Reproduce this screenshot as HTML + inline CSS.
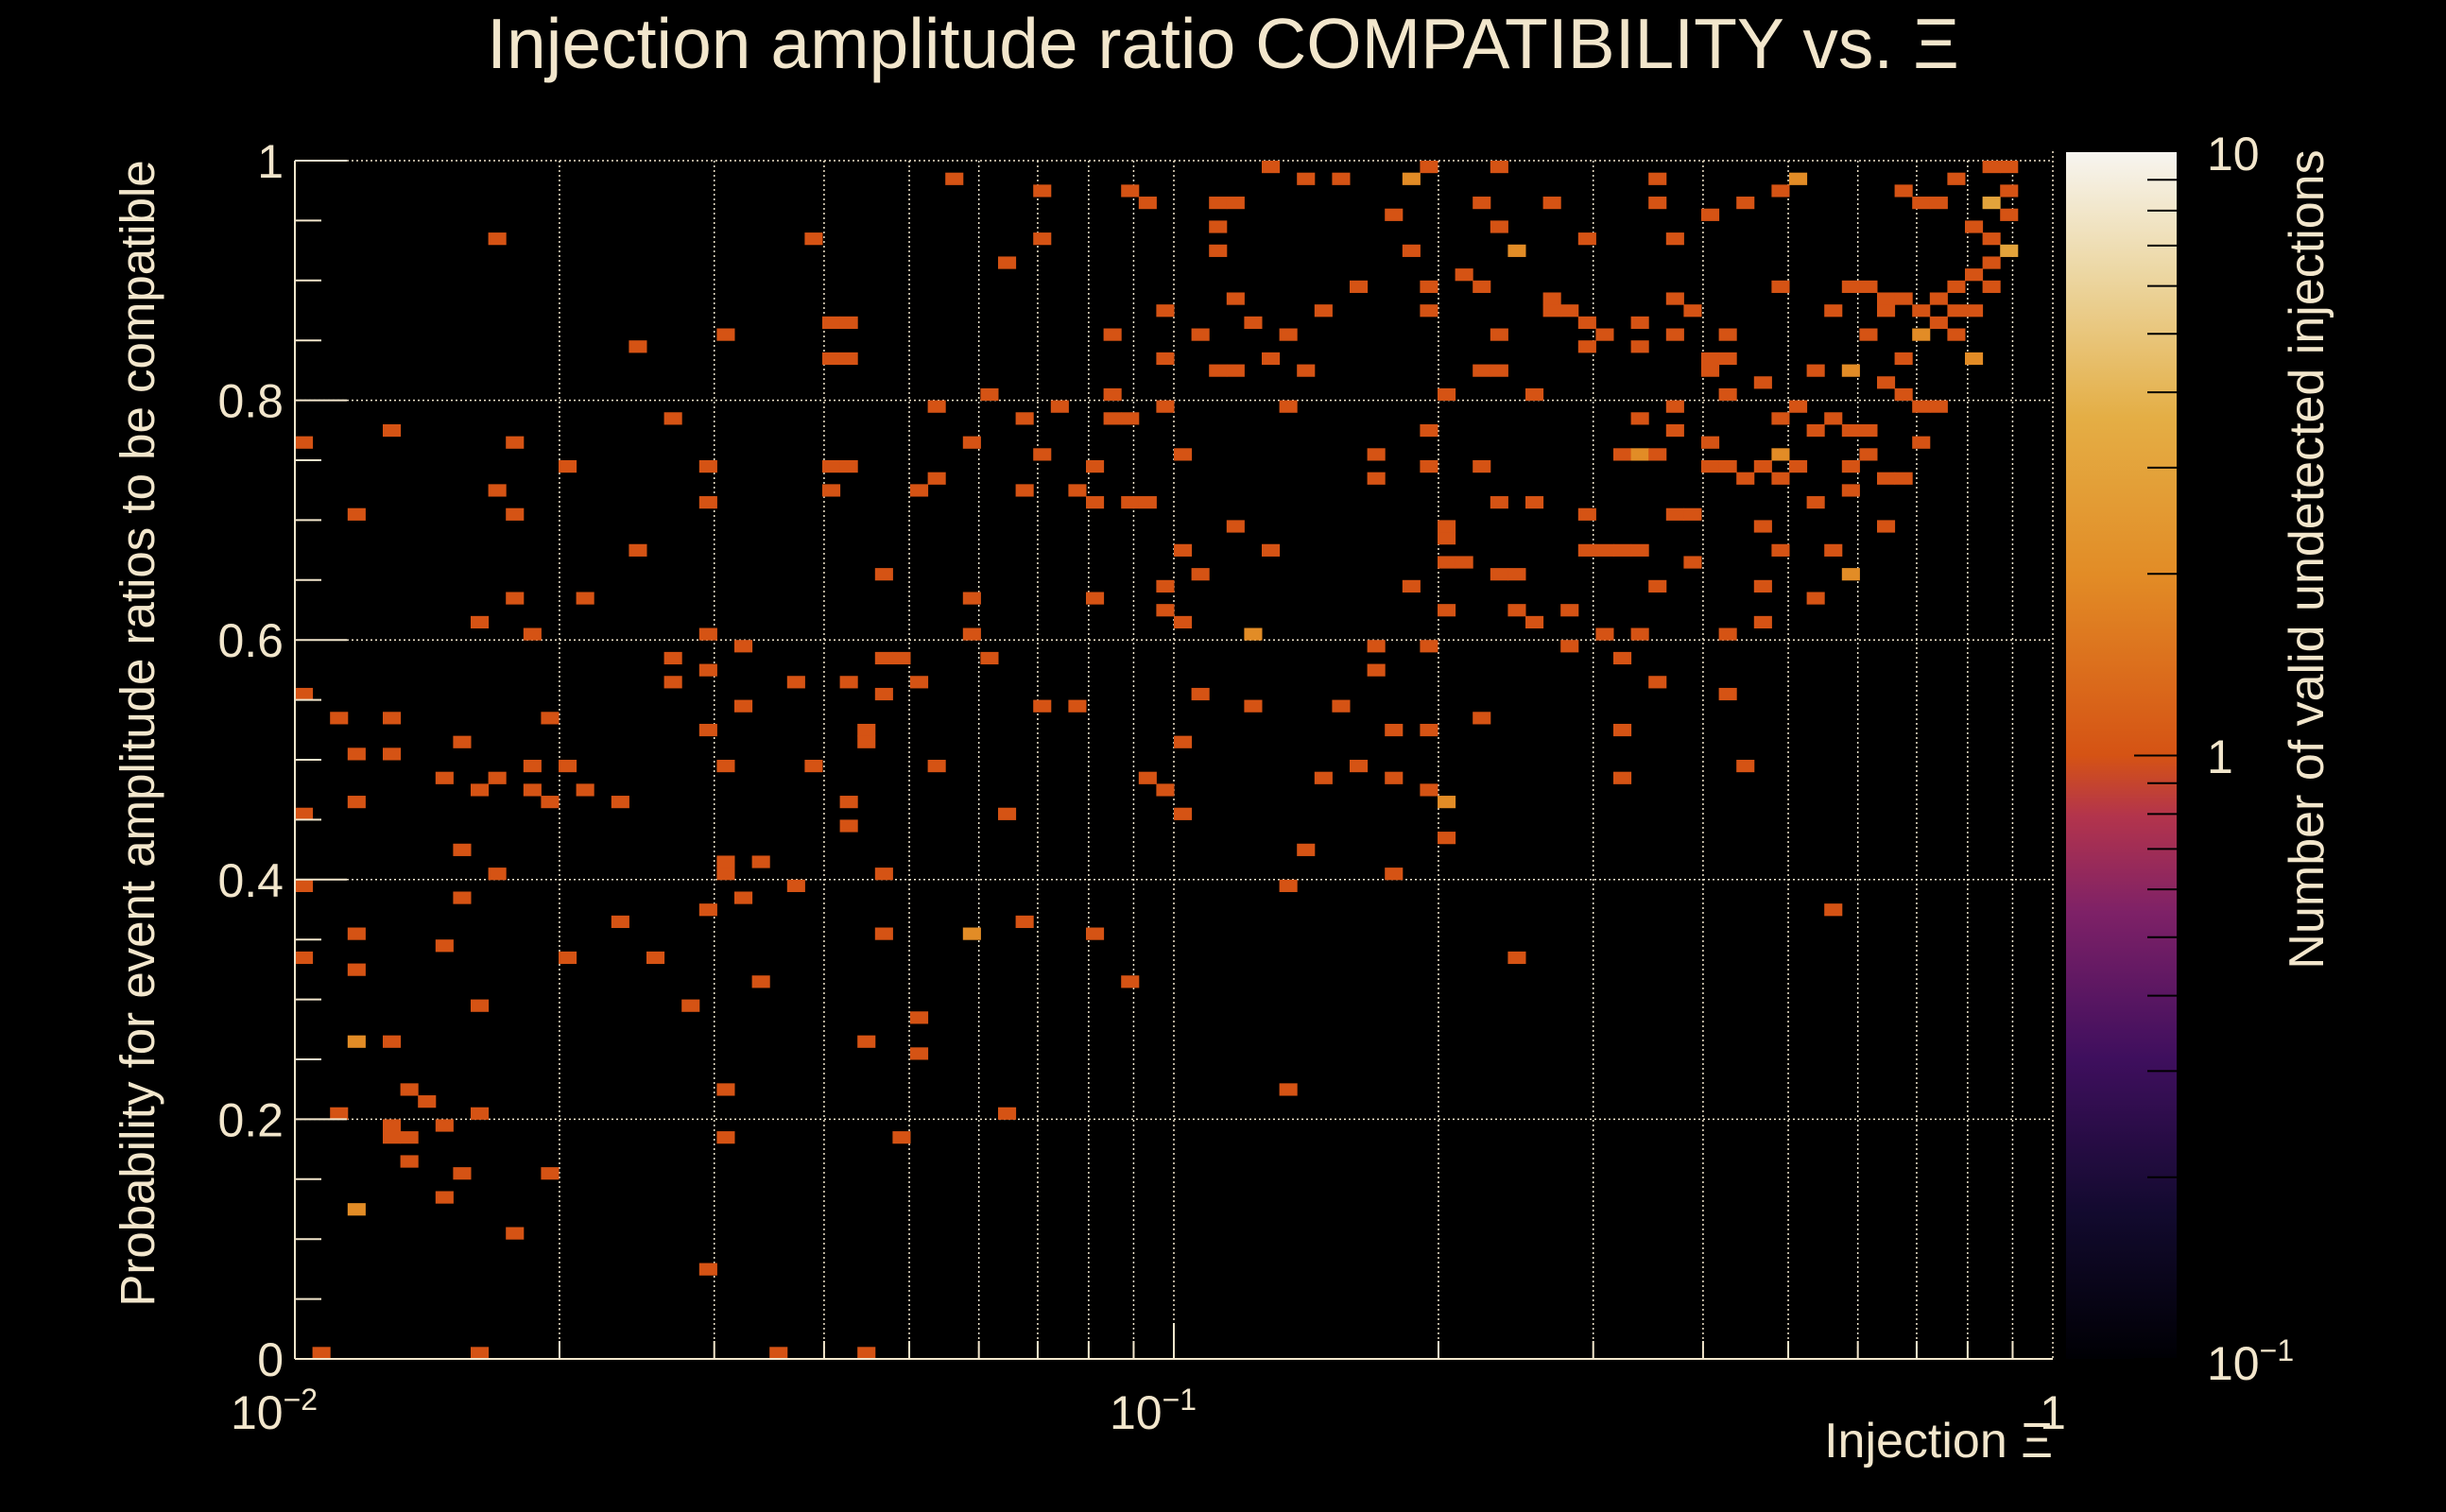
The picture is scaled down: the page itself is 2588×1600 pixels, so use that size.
<!DOCTYPE html>
<html><head><meta charset="utf-8"><style>
html,body{margin:0;padding:0;background:#000;}
svg{display:block;font-family:"Liberation Sans",sans-serif;}
</style></head><body>
<svg id="chart" width="2588" height="1600" viewBox="0 0 2588 1600">
<defs>
<linearGradient id="cbgrad" x1="0" y1="1" x2="0" y2="0">
<stop offset="0" stop-color="#000004"/><stop offset="0.12" stop-color="#120a2e"/><stop offset="0.25" stop-color="#3f0f5e"/><stop offset="0.37" stop-color="#7e2167"/><stop offset="0.45" stop-color="#b3344c"/><stop offset="0.5" stop-color="#d55314"/><stop offset="0.65" stop-color="#e28c26"/><stop offset="0.78" stop-color="#e4ae45"/><stop offset="0.9" stop-color="#ecd7a3"/><stop offset="1" stop-color="#f7f5f0"/>
</linearGradient>
</defs>
<g id="grid"></g>
<g id="cells"></g>
<g id="axes"></g>
<text x="1294" y="72" font-size="75" fill="#f2e6cc" text-anchor="middle">Injection amplitude ratio COMPATIBILITY vs.  Ξ</text>
<text transform="translate(163,776) rotate(-90)" font-size="51" fill="#f2e6cc" text-anchor="middle">Probability for event amplitude ratios to be compatible</text>
<text x="2172" y="1542" font-size="52" fill="#f2e6cc" text-anchor="end">Injection Ξ</text>
<rect x="2186" y="161" width="117" height="1277" fill="url(#cbgrad)"/>
<g id="cbticks"></g>
<text x="2335" y="180" font-size="50" fill="#f2e6cc">10</text>
<text x="2335" y="818" font-size="50" fill="#f2e6cc">1</text>
<text x="2335" y="1460" font-size="50" fill="#f2e6cc">10<tspan font-size="32" dy="-20">−1</tspan></text>
<text transform="translate(2458,592) rotate(-90)" font-size="52" fill="#f2e6cc" text-anchor="middle">Number of valid undetected injections</text>
</svg>
<script>
const xs=[0.01,0.01,0.01,0.0103,0.01,0.011,0.011,0.0117,0.0117,0.012,0.012,0.012,0.0128,0.0128,0.0128,0.012,0.0128,0.0128,0.0128,0.0134,0.0134,0.0134,0.012,0.014,0.0147,0.0147,0.0147,0.0147,0.0154,0.0154,0.0154,0.0154,0.016,0.016,0.016,0.016,0.016,0.0106,0.0168,0.0168,0.0168,0.0168,0.0177,0.0177,0.0177,0.0177,0.0185,0.0185,0.0185,0.0194,0.0194,0.0194,0.0204,0.0204,0.0204,0.0213,0.0213,0.0233,0.0233,0.0243,0.0243,0.0254,0.0267,0.0267,0.0267,0.028,0.029,0.029,0.029,0.029,0.029,0.029,0.029,0.0306,0.0306,0.0306,0.0306,0.0306,0.0306,0.032,0.032,0.032,0.0336,0.0336,0.035,0.0368,0.0368,0.0385,0.0385,0.0404,0.0404,0.0404,0.0404,0.0423,0.0423,0.0423,0.0423,0.0423,0.0423,0.0443,0.0443,0.0443,0.0443,0.0464,0.0464,0.0464,0.0464,0.0464,0.0486,0.0486,0.051,0.051,0.051,0.051,0.0534,0.0534,0.0534,0.056,0.0587,0.0587,0.0587,0.0587,0.061,0.061,0.064,0.064,0.064,0.067,0.067,0.067,0.07,0.07,0.07,0.07,0.073,0.077,0.077,0.08,0.08,0.08,0.08,0.084,0.084,0.084,0.088,0.088,0.088,0.088,0.092,0.092,0.092,0.097,0.097,0.097,0.097,0.097,0.097,0.101,0.101,0.101,0.101,0.101,0.106,0.106,0.106,0.111,0.111,0.111,0.111,0.116,0.116,0.116,0.116,0.122,0.122,0.122,0.128,0.128,0.128,0.134,0.134,0.134,0.134,0.14,0.14,0.14,0.147,0.147,0.154,0.154,0.162,0.162,0.169,0.169,0.169,0.169,0.178,0.178,0.178,0.178,0.186,0.186,0.186,0.195,0.195,0.195,0.195,0.195,0.195,0.195,0.195,0.204,0.204,0.204,0.204,0.204,0.204,0.204,0.213,0.213,0.224,0.224,0.224,0.224,0.224,0.234,0.234,0.234,0.234,0.234,0.237,0.245,0.245,0.245,0.245,0.256,0.256,0.26,0.268,0.27,0.275,0.28,0.287,0.287,0.3,0.3,0.3,0.3,0.3,0.314,0.314,0.314,0.328,0.328,0.328,0.328,0.328,0.343,0.343,0.343,0.343,0.343,0.343,0.358,0.358,0.358,0.358,0.358,0.375,0.375,0.375,0.375,0.375,0.375,0.393,0.393,0.393,0.41,0.41,0.41,0.41,0.41,0.43,0.43,0.43,0.43,0.43,0.43,0.45,0.45,0.45,0.47,0.47,0.47,0.47,0.47,0.49,0.49,0.49,0.49,0.49,0.49,0.51,0.51,0.51,0.535,0.535,0.535,0.535,0.56,0.56,0.56,0.56,0.585,0.585,0.585,0.585,0.585,0.585,0.61,0.61,0.61,0.61,0.64,0.64,0.64,0.64,0.64,0.67,0.67,0.67,0.67,0.67,0.7,0.7,0.7,0.7,0.7,0.73,0.73,0.73,0.73,0.77,0.77,0.77,0.77,0.8,0.8,0.8,0.8,0.84,0.84,0.84,0.84,0.84,0.88,0.88,0.88,0.9];
const ys=[0.55,0.45,0.39,0.76,0.33,0.20,0.53,0.35,0.32,0.70,0.46,0.50,0.77,0.53,0.50,0.26,0.26,0.19,0.18,0.18,0.22,0.16,0.12,0.21,0.19,0.13,0.34,0.48,0.15,0.38,0.42,0.51,0.20,0.29,0.47,0.61,0.0,0.0,0.93,0.72,0.40,0.48,0.76,0.70,0.63,0.10,0.60,0.49,0.47,0.46,0.53,0.15,0.74,0.49,0.33,0.63,0.47,0.46,0.36,0.84,0.67,0.33,0.56,0.58,0.78,0.29,0.74,0.71,0.60,0.57,0.52,0.37,0.07,0.85,0.49,0.22,0.18,0.41,0.40,0.38,0.54,0.59,0.31,0.41,0.0,0.56,0.39,0.93,0.49,0.72,0.86,0.83,0.74,0.86,0.83,0.74,0.56,0.46,0.44,0.52,0.51,0.26,0.0,0.58,0.55,0.65,0.40,0.35,0.58,0.18,0.56,0.28,0.25,0.72,0.49,0.73,0.79,0.98,0.35,0.63,0.60,0.76,0.58,0.80,0.91,0.45,0.20,0.36,0.72,0.78,0.97,0.93,0.75,0.54,0.79,0.54,0.72,0.63,0.74,0.71,0.35,0.80,0.78,0.85,0.78,0.97,0.71,0.31,0.71,0.96,0.48,0.79,0.64,0.62,0.47,0.83,0.87,0.75,0.67,0.61,0.51,0.45,0.85,0.65,0.55,0.96,0.82,0.94,0.92,0.96,0.82,0.88,0.69,0.54,0.86,0.60,0.99,0.67,0.83,0.79,0.39,0.22,0.85,0.82,0.98,0.42,0.87,0.48,0.98,0.54,0.89,0.49,0.75,0.73,0.59,0.57,0.52,0.40,0.95,0.48,0.98,0.92,0.64,0.99,0.89,0.87,0.77,0.74,0.59,0.52,0.47,0.68,0.66,0.69,0.80,0.62,0.46,0.43,0.90,0.66,0.96,0.89,0.82,0.74,0.53,0.82,0.85,0.94,0.71,0.65,0.99,0.65,0.62,0.92,0.33,0.71,0.80,0.61,0.88,0.96,0.87,0.87,0.62,0.59,0.93,0.86,0.84,0.70,0.67,0.85,0.67,0.60,0.67,0.52,0.48,0.75,0.58,0.84,0.86,0.60,0.67,0.78,0.75,0.56,0.64,0.98,0.96,0.75,0.88,0.93,0.79,0.77,0.85,0.70,0.87,0.70,0.66,0.83,0.82,0.95,0.76,0.74,0.60,0.55,0.85,0.83,0.80,0.74,0.73,0.96,0.49,0.81,0.61,0.64,0.74,0.69,0.75,0.78,0.97,0.89,0.73,0.67,0.79,0.74,0.98,0.77,0.82,0.71,0.63,0.78,0.37,0.67,0.87,0.77,0.89,0.82,0.74,0.72,0.65,0.85,0.89,0.75,0.77,0.88,0.81,0.73,0.69,0.87,0.97,0.88,0.83,0.73,0.80,0.96,0.85,0.79,0.76,0.87,0.96,0.88,0.86,0.79,0.89,0.85,0.87,0.98,0.94,0.90,0.87,0.83,0.99,0.96,0.93,0.91,0.89,0.95,0.92,0.97,0.99];
const counts=[1,1,1,1,1,1,1,1,1,1,1,1,1,1,1,2,1,1,1,1,1,1,2,1,1,1,1,1,1,1,1,1,1,1,1,1,1,1,1,1,1,1,1,1,1,1,1,1,1,1,1,1,1,1,1,1,1,1,1,1,1,1,1,1,1,1,1,1,1,1,1,1,1,1,1,1,1,1,1,1,1,1,1,1,1,1,1,1,1,1,1,1,1,1,1,1,1,1,1,1,1,1,1,1,1,1,1,1,1,1,1,1,1,1,1,1,1,1,2,1,1,1,1,1,1,1,1,1,1,1,1,1,1,1,1,1,1,1,1,1,1,1,1,1,1,1,1,1,1,1,1,1,1,1,1,1,1,1,1,1,1,1,1,1,1,1,1,1,1,1,1,1,1,1,1,2,1,1,1,1,1,1,1,1,1,1,1,1,1,1,1,1,1,1,1,1,1,1,1,1,2,1,1,1,1,1,1,1,1,1,1,1,1,1,1,1,2,1,1,1,1,1,1,1,1,1,1,1,1,1,1,1,1,2,1,1,1,1,1,1,1,1,1,1,1,1,1,1,1,1,1,1,1,1,1,1,1,1,1,1,1,1,2,1,1,1,1,1,1,1,1,1,1,1,1,1,1,1,1,1,1,1,1,1,1,1,1,1,1,1,1,1,1,1,1,1,2,1,1,1,1,1,1,1,2,1,1,1,1,1,1,1,1,1,1,2,1,1,2,1,1,1,1,1,1,1,1,1,1,1,1,1,1,1,2,1,1,1,1,1,1,1,1,1,1,1,1,1,1,2,1,3,1,1,1,1,3,1,1,1,1,3,1,2,4,2,1,1];
const xTickLabels=["10","10","1"];
const xTickExps=["−2","−1",""];
const yTickLabels=["0","0.2","0.4","0.6","0.8","1"];

const NS="http://www.w3.org/2000/svg";
const X0=312,X1=2172,Y0=1438,Y1=170,NX=100,NY=100,LMIN=-2,LMAX=0;
const FG="#f2e6cc";
function sx(v){return X0+(Math.log10(v)-LMIN)/(LMAX-LMIN)*(X1-X0);}
function sy(v){return Y0-v*(Y0-Y1);}
function mk(tag,attrs,parent){const e=document.createElementNS(NS,tag);for(const k in attrs)e.setAttribute(k,attrs[k]);parent.appendChild(e);return e;}
const stops=[[0,[0,0,4]],[0.12,[18,10,46]],[0.25,[63,15,94]],[0.37,[126,33,103]],[0.45,[179,52,76]],[0.5,[213,83,20]],[0.65,[226,140,38]],[0.78,[228,174,69]],[0.9,[236,215,163]],[1,[247,245,240]]];
function color(c){let t=(Math.log10(c)+1)/2;t=Math.max(0,Math.min(1,t));for(let i=1;i<stops.length;i++){if(t<=stops[i][0]+1e-9){const a=stops[i-1],b=stops[i];const f=(t-a[0])/(b[0]-a[0]);const r=a[1].map((v,j)=>Math.round(v+(b[1][j]-v)*f));return `rgb(${r[0]},${r[1]},${r[2]})`;}}return "rgb(247,245,240)";}

const grid=document.getElementById('grid');
const axes=document.getElementById('axes');
const cells=document.getElementById('cells');
const cw=(X1-X0)/NX,ch=(Y0-Y1)/NY;
for(let i=0;i<xs.length;i++){
  const bx=Math.min(NX-1,Math.floor((Math.log10(xs[i])-LMIN)/(LMAX-LMIN)*NX));
  const by=Math.min(NY-1,Math.floor(ys[i]*NY+1e-6));
  const r=mk('rect',{x:X0+bx*cw,y:Y0-(by+1)*ch,width:cw+0.5,height:ch+0.5,fill:color(counts[i])},cells);
  
  
}
for(let d=-2;d<0;d++){for(let m=1;m<10;m++){const v=m*Math.pow(10,d);const x=sx(v);
  if(m>1||d>-2)mk('line',{x1:x,y1:Y1,x2:x,y2:Y0,stroke:FG,'stroke-width':1.5,'stroke-dasharray':'2,3'},grid);
  mk('line',{x1:x,y1:Y0,x2:x,y2:Y0-(m==1?38:19),stroke:FG,'stroke-width':2},axes);}}
mk('line',{x1:X1,y1:Y1-10,x2:X1,y2:Y0,stroke:FG,'stroke-width':1.5,'stroke-dasharray':'2,3'},grid);
for(let k=0;k<=20;k++){const v=k/20;const y=sy(v);
  if(k%4==0&&k>0)mk('line',{x1:X0,y1:y,x2:X1,y2:y,stroke:FG,'stroke-width':1.5,'stroke-dasharray':'2,3'},grid);
  mk('line',{x1:X0,y1:y,x2:X0+(k%4==0?55:28),y2:y,stroke:FG,'stroke-width':2},axes);}
mk('line',{x1:X0,y1:Y1,x2:X0,y2:Y0,stroke:FG,'stroke-width':2},axes);
mk('line',{x1:X0,y1:Y0,x2:X1,y2:Y0,stroke:FG,'stroke-width':2},axes);
yTickLabels.forEach((l,i)=>{const t=mk('text',{x:300,y:sy(i*0.2)+18,'font-size':50,fill:FG,'text-anchor':'end'},axes);t.textContent=l;
  
  });
xTickLabels.forEach((l,i)=>{const x=sx(Math.pow(10,i-2));const t=mk('text',{x:x-(xTickExps[i]?22:0),y:1512,'font-size':50,fill:FG,'text-anchor':'middle'},axes);t.textContent=l;
  if(xTickExps[i]){const s=mk('tspan',{'font-size':32,dy:-20},t);s.textContent=xTickExps[i];}
  
  });
const cb=document.getElementById('cbticks');
const CB0=1438,CB1=161;
for(let d=-1;d<1;d++)for(let m=1;m<10;m++){const v=m*Math.pow(10,d);const y=CB0-(Math.log10(v)+1)/2*(CB0-CB1);
  mk('line',{x1:2303-(m==1?45:31),y1:y,x2:2303,y2:y,stroke:'#000','stroke-width':2},cb);}
</script>
</body></html>
